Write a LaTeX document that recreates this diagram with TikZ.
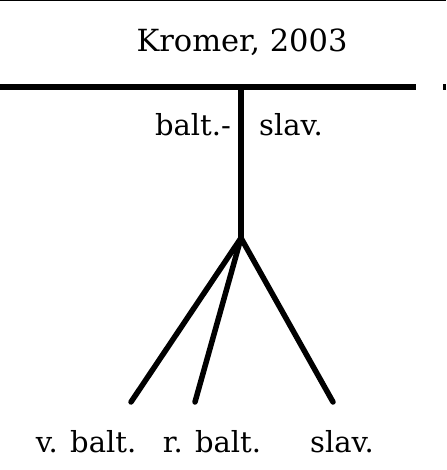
\documentclass[tikz,border=0pt]{standalone}
\usepackage{fontspec}
\setmainfont{DejaVu Serif}
\begin{document}
\begin{tikzpicture}[x=1pt,y=-1pt,
  lbl/.style={inner sep=0pt,font=\fontsize{29}{34}\selectfont},
  ttl/.style={inner sep=0pt,font=\fontsize{30.5}{36}\selectfont},
  branch/.style={line width=5.5pt,line cap=round},
  bar/.style={line width=6pt}]
\useasboundingbox (0,0) rectangle (446,470);
\draw[line width=2pt] (0,0) -- (446,0);
\coordinate (hl) at (0,87);
\coordinate (hr) at (416,87);
\coordinate (fl) at (443,87);
\coordinate (fr) at (446,87);
\draw[bar] (hl) -- (hr);
\draw[bar] (fl) -- (fr);
\coordinate (top) at (241,87);
\coordinate (root) at (241,238);
\coordinate (l1) at (131,402);
\coordinate (l2) at (195,402);
\coordinate (l3) at (333,402);
\draw[line width=5.5pt] (top) -- (root);
\draw[branch] (root) -- (l1);
\draw[branch] (root) -- (l2);
\draw[branch] (root) -- (l3);
\node[ttl,anchor=base] (title) at (242,52) {Kromer, 2003};
\node[lbl,anchor=base east] (bs) at (231,136) {balt.-};
\node[lbl,anchor=base west] (sl) at (259,136) {slav.};
\node[lbl,anchor=base] (vb) at (86,452) {v. balt.};
\node[lbl,anchor=base] (rb) at (212,452) {r. balt.};
\node[lbl,anchor=base] (sv) at (342,452) {slav.};
\end{tikzpicture}
\end{document}
